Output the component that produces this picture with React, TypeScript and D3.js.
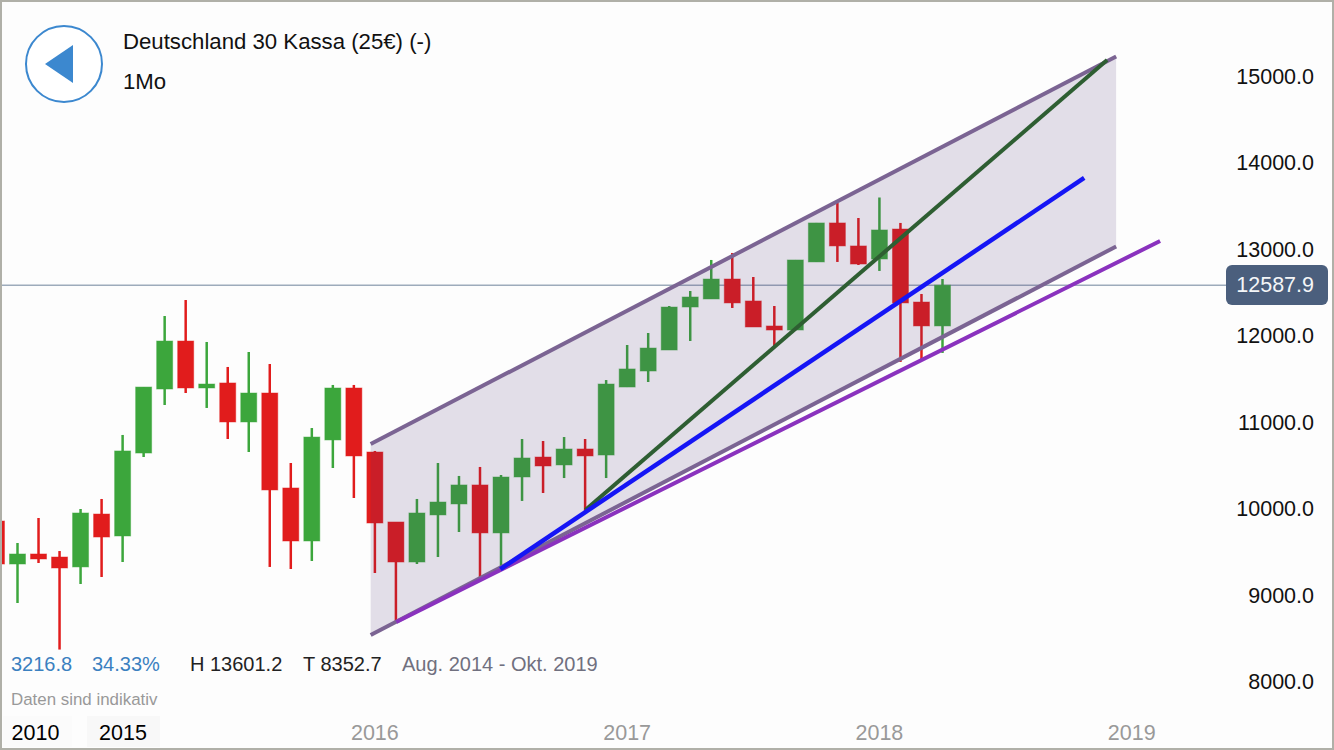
import React from "react";
import * as d3 from "d3";

const FONT = "'Liberation Sans', Arial, sans-serif";

// month offset from Aug 2014 = 0
const monthIndex = d3.range(-1, 45);
const opens = [9861,9364,9480,9445,9330,9942,9688,10647,11387,11942,11399,11457,11006,11341,10243,9630,10798,11399,10659,9850,9387,9931,10058,10278,9723,10370,10601,10509,10694,10624,11410,11595,11838,12335,12428,12659,12405,12116,12069,12856,13307,13041,12890,13237,12393,12116];
const closes = [9364,9480,9422,9318,9954,9676,10671,11410,11942,11399,11445,11006,11341,10220,9630,10832,11399,10613,9838,9387,9954,10081,10278,9723,10370,10590,10497,10694,10613,11445,11619,11861,12335,12451,12659,12382,12104,12069,12879,13307,13041,12832,13226,12382,12116,12587.9];
const highs = [9861,9607,9896,9514,10000,10116,10856,11410,12231,12416,11931,11642,11815,11676,10532,10936,11434,11434,10671,9850,10116,10532,10382,10486,10393,10809,10786,10832,10809,11491,11896,12035,12347,12520,12879,12960,12682,12347,12879,13307,13538,13364,13601.2,13307,12486,12659];
const lows = [9364,8913,9376,8375,9133,9214,9387,10601,11202,11341,11168,10809,10659,9330,9306,9399,10474,10127,9260,8705,9364,9445,9734,9214,9318,10093,10185,10358,9977,10358,11410,11468,11838,11942,12428,12324,12104,11873,12069,12856,12856,12821,12752,11700,11723,11804];

const channelUpper: [number, number][] = [[16.8,10751],[52.26,15232]];
const channelLower: [number, number][] = [[16.8,8543],[52.26,13035]];
const greenLine: [number, number][] = [[27.01,9988],[51.83,15191]];
const blueLine: [number, number][] = [[22.97,9306],[50.74,13827]];
const purpleLine: [number, number][] = [[18.02,8694],[54.35,13098]];

const yTicks = [8000,9000,10000,11000,12000,13000,14000,15000];
const yearLabels = ["2016","2017","2018","2019"];
const yearMonths = [17,29,41,53];
const lastPrice = 12587.9;

const x = d3.scaleLinear().domain([0,44]).range([17.5,942.5]);
const y = d3.scaleLinear().domain([8000,15000]).range([682,76.5]);
const line = d3.line<[number,number]>().x(d=>x(d[0])).y(d=>y(d[1]));

const GREEN = "#3CA63C";
const RED = "#E11C1C";

export default function App() {
  const band = [...channelUpper, ...channelLower.slice().reverse()];
  return (
    <svg width={1334} height={750} style={{position:"absolute",left:0,top:0,display:"block"}} fontFamily={FONT}>
      <rect x={0} y={0} width={1334} height={750} fill="#FDFDFD"/>

      <line x1={0} x2={1226} y1={y(lastPrice)} y2={y(lastPrice)} stroke="#9DABBB" strokeWidth={1.5}/>

      {monthIndex.map((m,i)=>{
        const up = closes[i] >= opens[i];
        const c = up ? GREEN : RED;
        const top = y(Math.max(opens[i],closes[i]));
        const bot = y(Math.min(opens[i],closes[i]));
        return (
          <g key={m}>
            <line x1={x(m)} x2={x(m)} y1={y(highs[i])} y2={y(lows[i])} stroke={c} strokeWidth={2.5}/>
            <rect x={x(m)-8} y={top} width={16} height={Math.max(bot-top,1)} fill={c} stroke={c} strokeOpacity={0.45} strokeWidth={1}/>
          </g>
        );
      })}

      <path d={line(band)+"Z"} fill="#4B2D73" fillOpacity={0.15}/>
      <path d={line(channelUpper)!} fill="none" stroke="#7B6493" strokeWidth={4}/>
      <path d={line(channelLower)!} fill="none" stroke="#7B6493" strokeWidth={4}/>
      <path d={line(purpleLine)!} fill="none" stroke="#8A32BE" strokeWidth={4}/>
      <path d={line(greenLine)!} fill="none" stroke="#2E5E32" strokeWidth={4}/>
      <path d={line(blueLine)!} fill="none" stroke="#1515F5" strokeWidth={4.5}/>

      {yTicks.map(t=>(
        <text key={t} x={1314} y={y(t)} dy="0.33em" textAnchor="end" fontSize={21.5} fill="#111">{t.toFixed(1)}</text>
      ))}
      <rect x={1226} y={265} width={102} height={40} rx={6} fill="#4B5F7D"/>
      <text x={1314} y={y(lastPrice)} dy="0.33em" textAnchor="end" fontSize={21.5} fill="#F4F6F8">{lastPrice.toFixed(1)}</text>

      <circle cx={64} cy={64} r={38} fill="#FFFFFF" stroke="#3C88CF" strokeWidth={2}/>
      <path d="M45,64L73,45L73,83Z" fill="#3C88CF"/>
      <text x={123} y={49} fontSize={22.2} fill="#111">Deutschland 30 Kassa (25€) (-)</text>
      <text x={123} y={89} fontSize={22.2} fill="#111">1Mo</text>

      <text x={11} y={671} fontSize={20} fill="#3A80C0">3216.8</text>
      <text x={92} y={671} fontSize={20} fill="#3A80C0">34.33%</text>
      <text x={190} y={671} fontSize={20} fill="#222">H 13601.2</text>
      <text x={303} y={671} fontSize={20} fill="#222">T 8352.7</text>
      <text x={402} y={671} fontSize={20} fill="#70707F">Aug. 2014 - Okt. 2019</text>
      <text x={11} y={705} fontSize={16.9} fill="#999">Daten sind indikativ</text>

      <rect x={3} y={716} width={69} height={31} fill="#FBFBFB"/>
      <rect x={87} y={716} width={73} height={31} fill="#F8F8F8"/>
      <text x={35.5} y={740} textAnchor="middle" fontSize={21.5} fill="#000">2010</text>
      <text x={123} y={740} textAnchor="middle" fontSize={21.5} fill="#000">2015</text>
      {yearLabels.map((l,i)=>(
        <text key={l} x={x(yearMonths[i])} y={740} textAnchor="middle" fontSize={21.5} fill="#999">{l}</text>
      ))}

      <rect x={1} y={1} width={1332} height={748} fill="none" stroke="#B0B0A8" strokeWidth={2}/>
    </svg>
  );
}
